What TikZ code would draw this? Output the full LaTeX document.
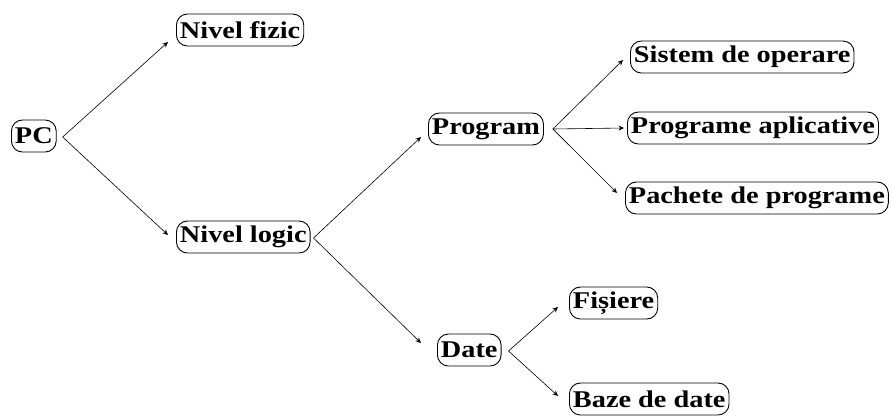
\documentclass[tikz,border=0pt]{standalone}
\usepackage{fontspec}
\setmainfont{Liberation Serif}
\newfontfamily\boxfont[FakeStretch=1.18]{Liberation Serif}
\usetikzlibrary{arrows.meta}
\tikzset{
  box/.style={draw, line width=0.9pt, rounded corners=11pt, anchor=west,
    minimum height=32pt, inner xsep=3.5pt, inner ysep=0pt,
    font=\boxfont\bfseries\fontsize{24}{26}\selectfont},
  link/.style={line width=0.6pt, -{Stealth[length=5.5pt,width=5pt]}}
}
\begin{document}
\begin{tikzpicture}[x=1pt,y=-1pt]
\useasboundingbox (0,0) rectangle (892,416);
% tree nodes, placed by their left edge
\node[box] (pc) at (11,136) {PC};
\node[box] (nf) at (176,30) {Nivel fizic};
\node[box] (nl) at (176,237) {Nivel logic};
\node[box] (pg) at (428,129) {Program};
\node[box] (so) at (630,57) {Sistem de operare};
\node[box] (pa) at (627,128) {Programe aplicative};
\node[box] (pp) at (625,198) {Pachete de programe};
\node[box] (dt) at (437,350) {Date};
\node[box] (fi) at (569,303) {Fișiere};
\node[box] (bz) at (569,399) {Baze de date};
% connectors
\draw[link] ([xshift=6pt,yshift=-1pt]pc.east) -- ([xshift=-8pt,yshift=-12pt]nf.west);
\draw[link] ([xshift=6pt,yshift=-1pt]pc.east) -- ([xshift=-8pt,yshift=2pt]nl.west);
\draw[link] ([xshift=3pt,yshift=-1pt]nl.east) -- ([xshift=-7pt,yshift=-8pt]pg.west);
\draw[link] ([xshift=3pt,yshift=-1pt]nl.east) -- ([xshift=-16pt,yshift=7pt]dt.west);
\draw[link] ([xshift=9pt]pg.east) -- ([xshift=-7pt,yshift=-3pt]so.west);
\draw[link] ([xshift=9pt]pg.east) -- ([xshift=-3pt]pa.west);
\draw[link] ([xshift=9pt]pg.east) -- ([xshift=-8pt,yshift=5pt]pp.west);
\draw[link] ([xshift=7pt,yshift=-1pt]dt.east) -- ([xshift=-11pt,yshift=-4pt]fi.west);
\draw[link] ([xshift=7pt,yshift=-1pt]dt.east) -- ([xshift=-11pt,yshift=3pt]bz.west);
\end{tikzpicture}
\end{document}
